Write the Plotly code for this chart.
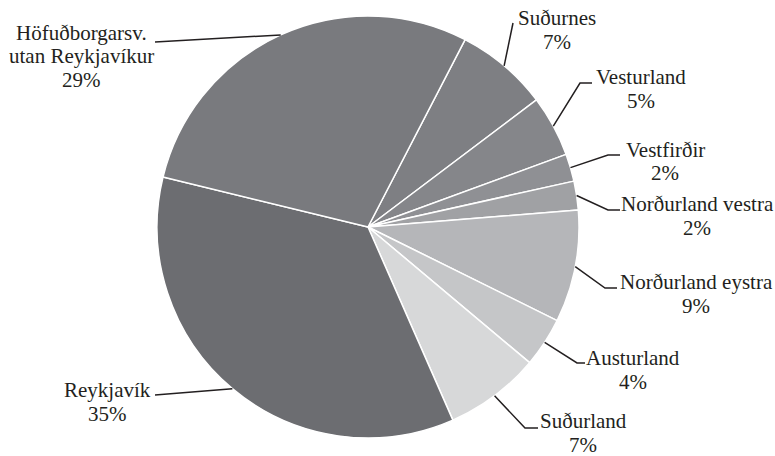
import numpy as np
import plotly.graph_objects as go

W, H = 775, 456

# slices, clockwise, starting after Höfuðborgarsv.
labels = ['Suðurnes', 'Vesturland', 'Vestfirðir', 'Norðurland vestra',
          'Norðurland eystra', 'Austurland', 'Suðurland', 'Reykjavík',
          'Höfuðborgarsv.<br>utan Reykjavíkur']
values = [7.1, 4.7, 2.1, 2.2, 8.6, 3.8, 7.3, 35.4, 28.8]
colors = ['#7e7f83', '#85868a', '#8f9094', '#a0a1a4', '#b5b6b9',
          '#c5c6c8', '#d7d8d9', '#6c6d71', '#797a7e']

# pie geometry in pixels
cx, cy, r = 368, 227, 211
rotation = 27.4

# label layout in pixels: text centre of first line, elbow, end of line near text
label_pos = [
    (557, 18, 513, 23, 513),
    (641, 77, 580, 83, 592),
    (665, 150, 608, 155, 620),
    (697, 204, 608, 210, 620),
    (696, 282, 605, 288, 617),
    (633, 358, 577, 363, 585),
    (583, 421, 525, 428, 538),
    (107, 390, 155, 395, 155),
    (81, 33, 155, 42, 155),
]

def px(x):
    return x / W

def py(y):
    return 1 - y / H

fig = go.Figure(go.Pie(
    labels=labels,
    values=values,
    sort=False,
    direction='clockwise',
    rotation=rotation,
    textinfo='none',
    hoverinfo='label+percent',
    marker=dict(colors=colors, line=dict(color='white', width=1.5)),
    domain=dict(x=[px(cx - r), px(cx + r)], y=[py(cy + r), py(cy - r)]),
    showlegend=False,
))

vals = np.array(values)
total = vals.sum()
mid = rotation + 360 * (np.cumsum(vals) - vals / 2) / total
pct = np.round(100 * vals / total).astype(int)

font = dict(family='Liberation Serif', size=21, color='#231f20')
line_h = 23.5

annotations = []
shapes = []
for lab, p, a, pos in zip(labels, pct, mid, label_pos):
    tx, ty, ex, ey, endx = pos
    lines = lab.split('<br>') + [f'{p}%']
    for n, t in enumerate(lines):
        annotations.append(dict(
            x=px(tx), y=py(ty + n * line_h), xref='paper', yref='paper',
            text=t, showarrow=False, xanchor='center', yanchor='middle', font=font))
    ang = np.radians(a)
    sx = cx + r * np.sin(ang)
    sy = cy - r * np.cos(ang)
    shapes.append(dict(
        type='path', xref='paper', yref='paper',
        path=f'M {px(sx)},{py(sy)} L {px(ex)},{py(ey)} L {px(endx)},{py(ey)}',
        line=dict(color='#231f20', width=1.5)))

fig.update_layout(
    width=W, height=H,
    margin=dict(l=0, r=0, t=0, b=0),
    paper_bgcolor='white',
    plot_bgcolor='white',
    annotations=annotations,
    shapes=shapes,
)

fig.write_html("out.html", config={'displayModeBar': False},
               post_script="document.body.style.margin='0';")
